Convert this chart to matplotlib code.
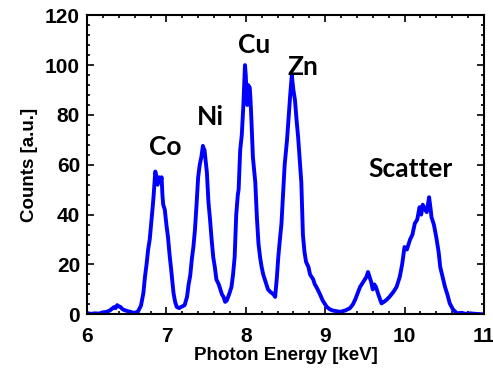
import matplotlib
matplotlib.use('Agg')
import matplotlib.pyplot as plt
from matplotlib.ticker import MultipleLocator

# spectrum: energy [keV], counts [a.u.]
energy = [6.00, 6.05, 6.10, 6.15, 6.20, 6.25, 6.29, 6.32, 6.34, 6.36, 6.38, 6.40,
          6.42, 6.45, 6.48, 6.52, 6.55, 6.58, 6.62, 6.64, 6.68, 6.71, 6.73, 6.75,
          6.77, 6.79, 6.81, 6.83, 6.84, 6.86, 6.87, 6.88, 6.89, 6.90, 6.91, 6.93,
          6.94, 6.95, 6.96, 6.98, 7.00, 7.02, 7.04, 7.06, 7.09, 7.11, 7.13, 7.16,
          7.20, 7.23, 7.26, 7.28, 7.30, 7.32, 7.34, 7.36, 7.38, 7.40, 7.42, 7.44,
          7.46, 7.47, 7.48, 7.50, 7.51, 7.53, 7.55, 7.57, 7.59, 7.61, 7.63, 7.66,
          7.68, 7.70, 7.72, 7.74, 7.76, 7.79, 7.82, 7.84, 7.86, 7.88, 7.90, 7.91,
          7.93, 7.95, 7.97, 7.99, 8.00, 8.01, 8.02, 8.03, 8.05, 8.06, 8.07, 8.09,
          8.12, 8.14, 8.16, 8.18, 8.20, 8.22, 8.24, 8.26, 8.28, 8.31, 8.35, 8.37,
          8.39, 8.41, 8.43, 8.45, 8.47, 8.49, 8.52, 8.54, 8.56, 8.58, 8.59, 8.60,
          8.62, 8.64, 8.66, 8.68, 8.70, 8.72, 8.74, 8.76, 8.79, 8.81, 8.83, 8.85,
          8.87, 8.89, 8.93, 8.97, 9.02, 9.06, 9.10, 9.15, 9.19, 9.25, 9.31, 9.35,
          9.38, 9.41, 9.44, 9.48, 9.52, 9.54, 9.56, 9.58, 9.60, 9.62, 9.64, 9.67,
          9.71, 9.74, 9.77, 9.81, 9.86, 9.90, 9.94, 9.97, 10.00, 10.03, 10.07, 10.10,
          10.13, 10.16, 10.19, 10.21, 10.23, 10.26, 10.28, 10.30, 10.31, 10.33, 10.34, 10.37,
          10.40, 10.43, 10.45, 10.48, 10.51, 10.54, 10.57, 10.61, 10.66, 10.72, 10.77, 10.83,
          10.89, 10.95, 11.00]
counts = [0.5, 0.2, 0.4, 0.3, 0.8, 1.0, 1.6, 2.4, 2.9, 2.5, 3.7, 3.2,
          3.0, 2.0, 1.6, 1.2, 1.0, 0.6, 0.8, 1.0, 3.5, 8.5, 15.0, 20.0,
          26.0, 30.0, 37.0, 44.0, 48.0, 57.3, 56.0, 53.0, 52.0, 54.5, 55.0, 54.0,
          55.0, 48.0, 44.0, 42.0, 36.0, 31.0, 24.0, 18.0, 8.5, 5.0, 3.0, 2.5,
          3.2, 3.7, 7.0, 12.0, 15.5, 22.0, 27.0, 34.0, 44.0, 55.0, 60.0, 63.0,
          67.6, 66.5, 66.0, 60.0, 57.0, 45.0, 38.0, 30.0, 23.0, 19.0, 14.0, 12.0,
          10.0, 8.0, 7.0, 5.0, 5.5, 8.0, 11.0, 16.0, 23.0, 40.0, 48.0, 50.0,
          66.0, 72.0, 84.0, 100.0, 96.0, 88.0, 84.0, 92.0, 91.0, 86.0, 79.0, 63.0,
          53.0, 39.0, 28.5, 23.0, 19.0, 16.0, 14.0, 12.0, 10.0, 9.0, 8.0, 7.0,
          14.0, 23.0, 30.0, 36.5, 48.0, 60.0, 70.0, 79.0, 88.0, 96.0, 93.0, 90.0,
          86.0, 78.0, 71.0, 62.0, 53.0, 32.0, 25.0, 21.0, 19.0, 16.0, 15.0, 14.0,
          12.0, 11.0, 8.4, 5.5, 3.0, 2.0, 1.5, 1.2, 1.0, 1.5, 2.4, 4.0,
          6.0, 8.5, 11.0, 13.0, 15.0, 17.0, 15.0, 13.0, 10.0, 12.0, 11.0, 8.0,
          4.4, 5.0, 5.7, 7.0, 9.0, 11.0, 15.0, 20.0, 27.0, 26.0, 30.0, 32.0,
          36.5, 38.0, 43.0, 40.0, 44.0, 42.0, 41.0, 45.0, 47.0, 42.0, 39.0, 36.0,
          31.0, 25.0, 19.0, 15.0, 11.0, 8.0, 4.4, 2.0, 0.4, 0.6, 0.2, 0.4,
          0.2, 0.1, 0.0]

peak_names = ['Co', 'Ni', 'Cu', 'Zn', 'Scatter']
peak_x = [6.98, 7.56, 8.10, 8.72, 10.08]
peak_y = [64.0, 76.0, 105.0, 96.0, 55.0]

fig = plt.figure(figsize=(4.93, 3.72), dpi=100)
ax = fig.add_axes([0.1765, 0.155, 0.805, 0.804])

ax.plot(energy, counts, color='#0000ff', lw=2.8)

for name, px, py in zip(peak_names, peak_x, peak_y):
    ax.text(px, py, name, ha='center', va='baseline', fontsize=19,
            fontweight='bold', family='Lato')

ax.set_xlim(6, 11)
ax.set_ylim(0, 120)
ax.xaxis.set_major_locator(MultipleLocator(1))
ax.xaxis.set_minor_locator(MultipleLocator(0.2))
ax.yaxis.set_major_locator(MultipleLocator(20))
ax.yaxis.set_minor_locator(MultipleLocator(4))
ax.tick_params(which='both', direction='in', top=True, right=True, width=1.2)
ax.tick_params(which='major', length=5)
ax.tick_params(which='minor', length=2.5)
ax.tick_params(axis='x', which='major', pad=9)
ax.tick_params(axis='y', which='major', pad=5)
for lab in ax.get_xticklabels() + ax.get_yticklabels():
    lab.set_family('Liberation Sans')
    lab.set_fontweight('bold')
    lab.set_fontsize(15)
for sp in ax.spines.values():
    sp.set_linewidth(1.5)

ax.set_xlabel('Photon Energy [keV]', family='Liberation Sans', fontweight='bold',
              fontsize=13.5, labelpad=1)
ax.set_ylabel('Counts [a.u.]', family='Liberation Sans', fontweight='bold',
              fontsize=13.5, labelpad=5)

fig.savefig('out.png', dpi=100)
